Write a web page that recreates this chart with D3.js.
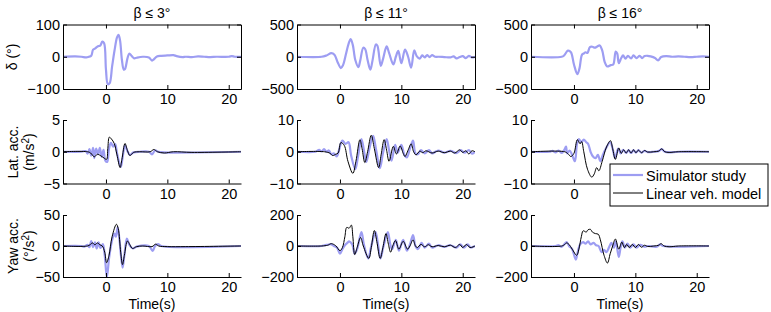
<!DOCTYPE html>
<html lang="en">
<head>
  <meta charset="UTF-8">
  <title>Simulator study vs linear vehicle model</title>
  <script src="https://d3js.org/d3.v7.min.js"></script>
  <style>
    body, html { margin: 0; padding: 0; background: #fff; }
    svg { display: block; font-family: "Liberation Sans", Arial, sans-serif; }
  </style>
</head>
<body>
  <svg width="771" height="312"></svg>
  <script>
    // column titles and y ranges
    const titles = ["β ≤ 3°", "β ≤ 11°", "β ≤ 16°"];
    const xTicks = [0, 10, 20];
    const steerTicks = [[-100, 0, 100], [-500, 0, 500], [-500, 0, 500]];
    const latTicks = [[-5, 0, 5], [-10, 0, 10], [-10, 0, 10]];
    const yawTicks = [[-50, 0, 50], [-200, 0, 200], [-200, 0, 200]];

    // steering wheel angle, simulator study  [time, value]
    const steer3 = [[-7,0],[-5,1],[-4,0],[-3.2,-2],[-2.8,0],[-2.4,3],[-2.1,22],[-1.8,25],[-1.5,30],[-1.2,33],[-0.9,35],[-0.6,47],[-0.3,42],[0,-40],[0.3,-85],[0.6,-82],[1.0,-30],[1.4,20],[1.8,60],[2.05,68],[2.3,50],[2.6,-10],[2.9,-40],[3.1,-38],[3.5,-5],[3.8,10],[4.2,2],[4.6,-5],[5,-3],[6,0],[7,-2],[7.5,-12],[7.8,-8],[8.3,1],[9,3],[10,4],[11,5],[11.5,2],[12.5,-1],[13,0],[14,-1],[15,1],[16,0],[17,-1],[18,0],[20,0],[20.5,2],[21,0],[22,0]];
    const steer11 = [[-7,0],[-3,0],[-2.2,20],[-1.4,55],[-0.9,30],[-0.4,-80],[0.15,-175],[0.5,-130],[1.0,50],[1.4,200],[1.75,275],[2.1,180],[2.5,-50],[3.0,-160],[3.3,-60],[3.8,140],[4.1,120],[4.5,-50],[4.95,-200],[5.3,-60],[5.85,190],[6.1,170],[6.65,-140],[7.0,-40],[7.6,160],[8.0,60],[8.7,-120],[9.1,0],[9.5,90],[10.0,-100],[10.6,110],[11.1,0],[11.6,-170],[12.1,100],[12.5,10],[13.0,-30],[13.4,20],[13.8,-10],[14.2,25],[14.6,-5],[15.0,25],[15.5,0],[16,0],[17,-5],[18,-10],[18.5,5],[19,-25],[19.5,-5],[20,10],[20.5,-20],[21,15],[21.5,-10],[22,0]];
    const steer16 = [[-7,0],[-2,0],[-1.6,20],[-1.0,95],[-0.5,70],[0,-120],[0.55,-270],[0.9,-180],[1.3,30],[1.6,50],[1.9,70],[2.2,60],[2.6,150],[3.0,155],[3.4,140],[3.8,160],[4.2,175],[4.6,100],[5.0,-80],[5.4,-150],[6.0,-130],[6.4,-120],[6.8,80],[7.05,50],[7.3,-100],[7.7,-20],[8.0,20],[8.4,-30],[8.8,15],[9.3,-25],[9.7,20],[10.2,-20],[10.7,15],[11.1,-20],[11.5,10],[12,15],[12.5,5],[13.2,-20],[13.7,-55],[14.2,-5],[15,10],[16,0],[17,5],[18,0],[19,-5],[20,0],[21,5],[22,0]];

    // lateral acceleration: simulator study (sim) and linear vehicle model (lin)
    const latSim3 = [[-7,0],[-4,0],[-3.3,0.1],[-3.0,-0.3],[-2.7,0.4],[-2.4,-0.6],[-2.1,0.6],[-1.9,-1.0],[-1.6,0.5],[-1.3,-0.4],[-1.0,0.6],[-0.7,-0.8],[-0.4,0.3],[-0.1,-1.4],[0.2,-1.6],[0.5,0.5],[0.8,1.4],[1.2,0.8],[1.5,1.2],[1.8,-0.2],[2.4,-2.4],[2.7,-1.0],[3.1,1.0],[3.5,0.1],[3.9,-0.5],[4.5,-0.1],[5.5,0],[7.0,0],[7.5,-0.4],[8.0,0.2],[8.5,0],[9.5,-0.1],[22,0]];
    const latLin3 = [[-7,0],[-3,0],[-2.5,-0.2],[-1.9,-0.8],[-1.4,-0.4],[-0.9,-0.6],[-0.3,-1.0],[0.1,-1.2],[0.3,0.5],[0.55,2.3],[0.9,2.0],[1.35,1.3],[1.8,-0.5],[2.3,-2.5],[2.6,-1.2],[3.1,1.3],[3.5,0.2],[3.9,-0.6],[4.5,-0.1],[5.5,0],[7.2,0],[7.8,0.35],[8.4,0],[9.5,-0.2],[11,0],[14,-0.1],[22,0]];
    const latSim11 = [[-7,0],[-4,0],[-3.4,0.6],[-3,0.1],[-2.6,0.8],[-2.2,0],[-1.8,0.4],[-1.4,-0.8],[-1,-0.5],[-0.5,-1.5],[-0.2,0.2],[0.4,3.5],[0.9,2.5],[1.4,3.0],[1.8,-1],[2.5,-5.5],[2.9,-2],[3.5,4],[3.9,0.5],[4.3,-3.2],[4.8,1],[5.4,5],[5.9,0.5],[6.5,-5.2],[7.0,-0.5],[7.6,4],[8.0,0.5],[8.4,-2.8],[9.0,2.2],[9.4,-0.3],[10.0,2.2],[10.5,-1],[10.9,-1.8],[11.4,1.0],[11.9,3.5],[12.3,-0.5],[12.7,-0.8],[13.2,0.5],[13.8,-0.5],[14.5,0.5],[15,-0.5],[16,0.4],[17,-0.3],[18,0.3],[19,-0.4],[19.7,0.5],[20.3,-0.3],[21,0.5],[21.5,-0.6],[22,0]];
    const latLin11 = [[-7,0],[-2.5,0],[-1.6,-0.5],[-1.2,-1.2],[-0.7,-0.8],[-0.3,-0.4],[0.15,2.9],[0.7,2.0],[1.3,-3],[2.1,-6.8],[2.6,-3],[3.25,3.8],[3.6,1],[4.05,-3.4],[4.5,0],[5.1,5.2],[5.6,1],[6.3,-5],[6.7,-1],[7.2,3.8],[7.6,0.5],[8.0,-3.0],[8.7,1.7],[9.2,-0.7],[9.8,1.8],[10.3,-0.5],[10.6,-1.5],[11.1,0.5],[11.6,2.5],[12.0,0],[12.4,-1.0],[13,0.2],[13.5,-0.3],[14,0.3],[15,-0.4],[16,0.2],[17,-0.3],[18,0.2],[18.7,-0.4],[19.5,0.6],[20,-0.2],[20.5,0.3],[21,-0.7],[21.5,0.3],[22,0]];
    const latSim16 = [[-7,0],[-4,0],[-3.5,0.3],[-3,-0.2],[-2.5,0.4],[-2,-0.4],[-1.6,0.5],[-1.3,1.6],[-1.1,-0.5],[-0.7,0.4],[-0.3,-1.0],[0.15,-3],[0.5,2.5],[0.8,4],[1.2,3],[1.6,3.8],[2.0,3],[2.3,2.5],[2.7,0],[3.1,-1.5],[3.5,-2],[3.9,-1],[4.3,-3],[4.7,-1],[5.2,1],[5.9,3],[6.3,1],[6.7,-2],[7.2,1],[7.6,-0.5],[8.0,0.6],[8.5,-0.4],[8.9,0.5],[9.3,-0.4],[9.7,0.5],[10.1,-0.3],[10.5,0.5],[11,-0.3],[11.5,0.3],[12,-0.1],[13,0],[13.8,0.2],[14.3,0.8],[14.8,0],[15.5,-0.2],[17,0],[22,0]];
    const latLin16 = [[-7,0],[-1.5,0],[-1.0,-0.6],[-0.5,-1.5],[0,-0.5],[0.55,3.8],[1.0,2.5],[1.25,3.2],[1.6,0],[2.2,-5.5],[2.9,-8.0],[3.3,-7],[3.7,-5],[4.05,-6],[4.6,-3],[5.3,1.5],[5.95,3.5],[6.3,1],[6.75,-2.4],[7.3,1.2],[7.7,-0.5],[8.1,0.6],[8.5,-0.4],[8.9,0.6],[9.3,-0.4],[9.7,0.6],[10.1,-0.3],[10.5,0.5],[11,-0.3],[11.5,0.4],[12,-0.1],[13,0],[13.8,0.2],[14.3,0.9],[14.8,0],[15.5,-0.2],[17,0],[22,0]];

    // yaw acceleration
    const yawSim3 = [[-7,0],[-4,0],[-3.5,-1],[-3,2],[-2.7,-2],[-2.4,8],[-2.1,-2],[-1.8,6],[-1.5,-4],[-1.2,6],[-0.9,-3],[-0.5,3],[-0.2,-15],[0.15,-50],[0.5,-20],[0.9,5],[1.35,20],[1.6,15],[1.9,30],[2.2,10],[2.7,-35],[3.0,-15],[3.4,12],[3.8,2],[4.4,-4],[5,-1],[7,0],[7.6,-8],[8.0,0],[8.5,3],[9,0],[22,0]];
    const yawLin3 = [[-7,0],[-3,0],[-2.6,2],[-2.2,5],[-1.8,2],[-1.4,5],[-1.0,2],[-0.6,0],[-0.2,-10],[0.1,-27],[0.5,-15],[1.0,15],[1.7,35],[2.0,28],[2.4,-10],[2.7,-30],[3.0,-15],[3.5,8],[3.9,2],[4.3,-4],[5,-1],[6,0],[7.5,-1],[8.1,3],[8.6,0],[10,-1],[13,-1],[22,0]];
    const yawSim11 = [[-7,0],[-3,0],[-2.5,5],[-2,8],[-1.5,12],[-1,0],[-0.5,-10],[0,-50],[0.4,-20],[0.8,5],[1.2,20],[1.5,30],[2.0,10],[2.4,-50],[2.8,-20],[3.5,90],[3.9,10],[4.6,-80],[5.1,0],[5.8,90],[6.2,10],[6.6,-80],[7.1,0],[7.8,90],[8.2,10],[8.5,-20],[9.1,40],[9.6,-30],[10.3,40],[10.9,-30],[11.4,10],[11.9,70],[12.3,0],[12.7,-20],[13.3,20],[13.8,-10],[14.5,15],[15,-10],[16,5],[17,-5],[18,5],[19,-10],[19.6,10],[20.2,-10],[20.8,10],[21.3,-10],[22,0]];
    const yawLin11 = [[-7,0],[-3,0],[-2,5],[-1.4,15],[-0.7,2],[0,-30],[0.4,-10],[0.8,60],[1.1,120],[1.5,115],[1.85,135],[2.1,60],[2.4,-55],[2.8,-10],[3.35,55],[3.8,0],[4.7,-80],[5.1,-10],[5.6,100],[6.0,30],[6.55,-80],[7.0,-10],[7.5,80],[7.9,10],[8.25,-40],[8.6,0],[9.05,35],[9.6,-20],[10.3,30],[11.0,-20],[11.4,0],[11.9,40],[12.3,0],[12.6,-10],[13.2,10],[13.8,-5],[14.4,8],[15,-5],[16,3],[17,-5],[18,5],[18.8,-10],[19.5,10],[20,-10],[20.6,10],[21.2,-10],[22,0]];
    const yawSim16 = [[-7,0],[-3,0],[-2.5,5],[-2,-5],[-1.6,10],[-1.2,25],[-0.8,0],[-0.3,-20],[0.3,-88],[0.6,-40],[1.0,10],[1.5,25],[1.9,15],[2.3,30],[2.7,10],[3.2,20],[3.6,5],[4.0,0],[4.5,-40],[4.9,-25],[5.3,-40],[5.7,-10],[6.1,20],[6.5,-10],[6.8,30],[7.3,-70],[7.6,-10],[7.9,30],[8.3,-10],[8.7,15],[9.2,-10],[9.7,10],[10.2,-10],[10.8,8],[11.5,-5],[12,0],[13.5,-5],[14,10],[14.5,0],[22,0]];
    const yawLin16 = [[-7,0],[-2,0],[-1.5,10],[-1.2,20],[-0.8,10],[-0.3,-20],[0.45,-60],[0.8,-20],[1.2,60],[1.5,98],[2.0,90],[2.3,105],[2.7,107],[3.0,90],[3.5,80],[3.95,76],[4.3,40],[4.9,-60],[5.45,-110],[5.9,-50],[6.3,0],[6.75,45],[7.3,-20],[7.8,25],[8.2,-10],[8.6,10],[9.0,-10],[9.5,10],[10,-10],[10.5,10],[11,-8],[11.5,5],[12,-3],[13,0],[13.8,5],[14.2,15],[14.7,0],[15.5,-5],[17,0],[22,0]];

    const legendLabels = ["Simulator study", "Linear veh. model"];
    const simColor = "#9d9df2", linColor = "#000";

    const svg = d3.select("svg");

    // panel geometry
    const colX = [63, 297, 531], panelW = 178;
    const rows = [
      { top: 24.5, bottom: 89, ticks: steerTicks, sim: [steer3, steer11, steer16], lin: null, box: true },
      { top: 120, bottom: 183.5, ticks: latTicks, sim: [latSim3, latSim11, latSim16], lin: [latLin3, latLin11, latLin16], box: false },
      { top: 215, bottom: 277, ticks: yawTicks, sim: [yawSim3, yawSim11, yawSim16], lin: [yawLin3, yawLin11, yawLin16], box: false }
    ];
    const fmt = d3.format("");

    rows.forEach((row, r) => {
      colX.forEach((x0, c) => {
        const yt = row.ticks[c];
        const x = d3.scaleLinear().domain([-7, 22]).range([x0, x0 + panelW]);
        const y = d3.scaleLinear().domain([yt[0], yt[2]]).range([row.bottom, row.top]);
        const line = d3.line().x(d => x(d[0])).y(d => y(d[1])).curve(d3.curveCatmullRom.alpha(0.5));

        const g = svg.append("g");
        const clipId = `clip${r}${c}`;
        g.append("clipPath").attr("id", clipId).append("rect")
          .attr("x", x0).attr("y", row.top).attr("width", panelW).attr("height", row.bottom - row.top);

        const plot = g.append("g").attr("clip-path", `url(#${clipId})`);
        plot.append("path").datum(row.sim[c]).attr("d", line)
          .attr("fill", "none").attr("stroke", simColor).attr("stroke-width", 2.2).attr("stroke-linejoin", "round");
        if (row.lin) {
          plot.append("path").datum(row.lin[c]).attr("d", line)
            .attr("fill", "none").attr("stroke", linColor).attr("stroke-width", 1).attr("stroke-linejoin", "round");
        }

        // the legend hides the 10 and 20 labels of the middle-right panel
        const shownX = (r === 1 && c === 2) ? (d => d === 0 ? fmt(d) : "") : fmt;

        // axes, ticks pointing inward like matlab
        g.append("g").attr("transform", `translate(0,${row.bottom})`)
          .call(d3.axisBottom(x).tickValues(xTicks).tickSizeInner(-4).tickSizeOuter(0).tickPadding(5).tickFormat(shownX));
        g.append("g").attr("transform", `translate(${x0},0)`)
          .call(d3.axisLeft(y).tickValues(yt).tickSizeInner(-4).tickSizeOuter(0).tickPadding(3).tickFormat(fmt));
        if (row.box) {
          g.append("g").attr("transform", `translate(0,${row.top})`)
            .call(d3.axisTop(x).tickValues(xTicks).tickSizeInner(-4).tickSizeOuter(0).tickFormat(""));
          g.append("g").attr("transform", `translate(${x0 + panelW},0)`)
            .call(d3.axisRight(y).tickValues(yt).tickSizeInner(-4).tickSizeOuter(0).tickFormat(""));
        }
        g.selectAll(".domain").attr("stroke", "#000");
        g.selectAll(".tick line").attr("stroke", "#000");
        g.selectAll(".tick text").attr("font-size", 14.5).attr("fill", "#000")
          .attr("font-family", "'Liberation Sans', Arial, sans-serif");

        if (r === 0) {
          svg.append("text").attr("x", x0 + panelW / 2).attr("y", 18)
            .attr("text-anchor", "middle").attr("font-size", 14).text(titles[c]);
        }
        if (r === 2) {
          svg.append("text").attr("x", x0 + panelW / 2).attr("y", 309)
            .attr("text-anchor", "middle").attr("font-size", 14).text("Time(s)");
        }
      });
    });

    // y labels (rotated)
    const ylab = (cx, cy, parts) => {
      const t = svg.append("text").attr("transform", `translate(${cx},${cy}) rotate(-90)`)
        .attr("text-anchor", "middle").attr("font-size", 14);
      parts.forEach(p => {
        const s = t.append("tspan").text(p[0]);
        if (p[1]) s.attr("baseline-shift", "super").attr("font-size", 10);
      });
    };
    ylab(17, 57, [["δ (°)"]]);
    ylab(18, 152, [["Lat. acc."]]);
    ylab(34, 152, [["(m/s"], ["2", true], [")"]]);
    ylab(18, 246, [["Yaw acc."]]);
    ylab(34, 246, [["(°/s"], ["2", true], [")"]]);

    // legend
    const lg = svg.append("g").attr("transform", "translate(610,164)");
    lg.append("rect").attr("width", 158).attr("height", 42).attr("fill", "#fff").attr("stroke", "#000");
    [simColor, linColor].forEach((col, i) => {
      const yy = 11 + i * 18;
      lg.append("line").attr("x1", 3).attr("x2", 33).attr("y1", yy).attr("y2", yy)
        .attr("stroke", col).attr("stroke-width", i === 0 ? 2.2 : 1);
      lg.append("text").attr("x", 36).attr("y", yy + 5.5).attr("font-size", 14.5).text(legendLabels[i]);
    });
  </script>
</body>
</html>
